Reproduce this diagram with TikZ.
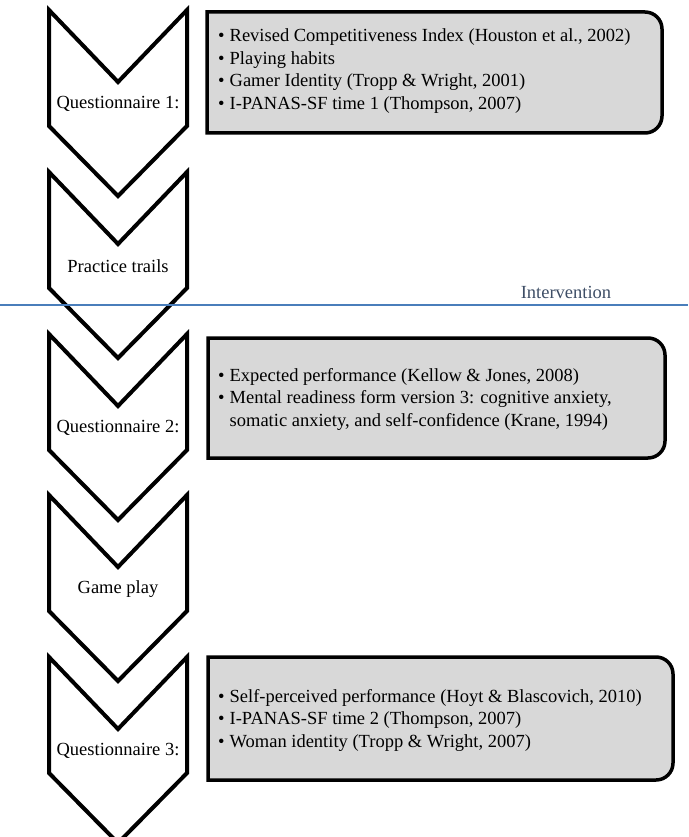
\documentclass[tikz,border=0pt]{standalone}
\usepackage{fontspec}
\setmainfont{Liberation Serif}
\definecolor{boxgray}{RGB}{216,216,216}
\definecolor{sepblue}{RGB}{74,126,187}
\definecolor{labelblue}{RGB}{62,78,102}
\newcommand{\stagefont}{\fontsize{18.5}{22.5}\selectfont}

\begin{document}
\begin{tikzpicture}[x=1pt, y=-1pt,
  chevron/.style={draw=black, fill=white, line width=4pt},
  infobox/.style={draw=black, fill=boxgray, line width=3.5pt},
  stagelabel/.style={font=\stagefont, inner sep=0pt},
  boxtext/.style={font=\stagefont, anchor=west, align=left, inner sep=0pt}]
\useasboundingbox (0,0) rectangle (688,837);

% Chevrons down the left side
\draw[chevron] (49,10) -- (118,82) -- (187,10) -- (187,126) -- (118,196) -- (49,126) -- cycle;
\node[stagelabel] (quest1) at (118,104) {Questionnaire 1:};
\draw[chevron] (49,172) -- (118,244) -- (187,172) -- (187,288) -- (118,358) -- (49,288) -- cycle;
\node[stagelabel] (practice) at (118,266) {Practice trails};
\draw[chevron] (49,334) -- (118,406) -- (187,334) -- (187,450) -- (118,520) -- (49,450) -- cycle;
\node[stagelabel] (quest2) at (118,428) {Questionnaire 2:};
\draw[chevron] (49,495) -- (118,567) -- (187,495) -- (187,611) -- (118,681) -- (49,611) -- cycle;
\node[stagelabel] (gameplay) at (118,589) {Game play};
\draw[chevron] (49,657) -- (118,729) -- (187,657) -- (187,773) -- (118,843) -- (49,773) -- cycle;
\node[stagelabel] (quest3) at (118,751) {Questionnaire 3:};

% Grey boxes, rounded on the right only
\draw[infobox] (207,12) -- (645,12) arc[start angle=-90, end angle=0, radius=17] -- (662,116) arc[start angle=0, end angle=90, radius=17] -- (207,133) -- cycle;
\node[boxtext] (measures1) at (218,71) {\begin{tabular}{@{}l@{\hspace{5pt}}l@{}}
\textbullet & Revised Competitiveness Index (Houston et al., 2002)\\
\textbullet & Playing habits\\
\textbullet & Gamer Identity (Tropp \& Wright, 2001)\\
\textbullet & I-PANAS-SF time 1 (Thompson, 2007)
\end{tabular}};

\draw[infobox] (208,338) -- (648,338) arc[start angle=-90, end angle=0, radius=17] -- (665,441) arc[start angle=0, end angle=90, radius=17] -- (208,458) -- cycle;
\node[boxtext] (measures2) at (218,399) {\begin{tabular}{@{}l@{\hspace{5pt}}l@{}}
\textbullet & Expected performance (Kellow \& Jones, 2008)\\
\textbullet & Mental readiness form version 3: cognitive anxiety,\\
 & somatic anxiety, and self-confidence (Krane, 1994)
\end{tabular}};

\draw[infobox] (208,657) -- (656,657) arc[start angle=-90, end angle=0, radius=17] -- (673,763) arc[start angle=0, end angle=90, radius=17] -- (208,780) -- cycle;
\node[boxtext] (measures3) at (218,720) {\begin{tabular}{@{}l@{\hspace{5pt}}l@{}}
\textbullet & Self-perceived performance (Hoyt \& Blascovich, 2010)\\
\textbullet & I-PANAS-SF time 2 (Thompson, 2007)\\
\textbullet & Woman identity (Tropp \& Wright, 2007)
\end{tabular}};

% Intervention line
\coordinate (lineL) at (0,305);
\coordinate (lineR) at (688,305);
\draw[sepblue, line width=1.3pt] (lineL) -- (lineR);
\node[stagelabel, text=labelblue] (intervention) at (566,292) {Intervention};
\end{tikzpicture}
\end{document}
